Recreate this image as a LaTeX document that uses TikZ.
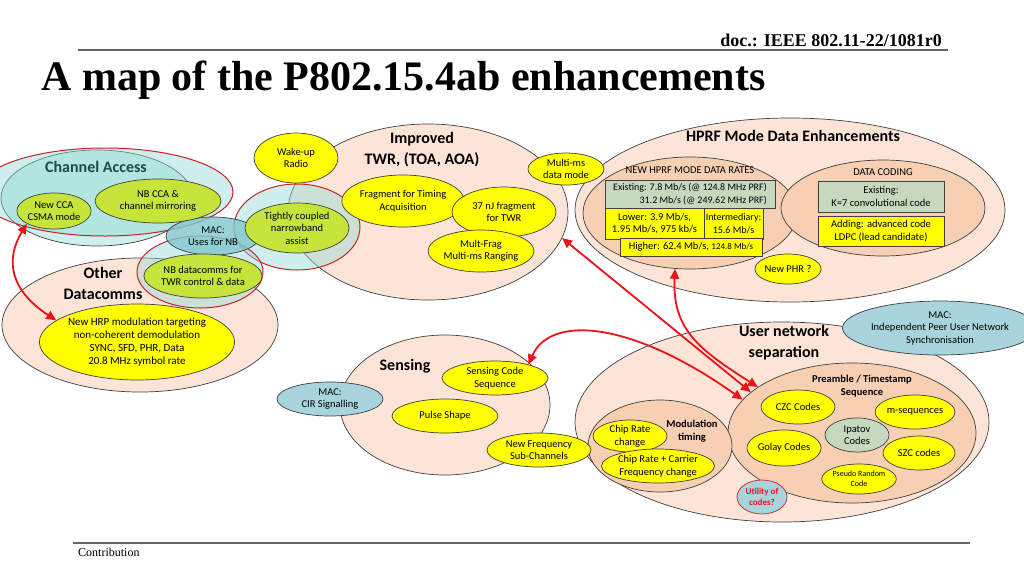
\documentclass[tikz,border=0pt]{standalone}
\usepackage{fontspec}
\setmainfont{Carlito}
\newfontfamily\tnr{Liberation Serif}
\usetikzlibrary{shapes.geometric,arrows.meta}
\definecolor{peach}{HTML}{FCE4D6}
\definecolor{peachd}{HTML}{F7CFB2}
\definecolor{yel}{HTML}{FFFF00}
\definecolor{lime}{HTML}{C6E43A}
\definecolor{tealc}{HTML}{94DCD5}
\definecolor{macnbc}{HTML}{80C6CC}
\definecolor{macb}{HTML}{A8D4DE}
\definecolor{grn}{HTML}{C6D9BE}
\definecolor{arr}{HTML}{E8141A}
\definecolor{redl}{HTML}{C8202C}
\definecolor{ctitle}{HTML}{1E4A4A}
\definecolor{outl}{HTML}{404040}
\tikzset{
  sz/.style 2 args={minimum width=#1pt, minimum height=#2pt},
  ell/.style={ellipse, draw=outl, line width=0.7pt, inner sep=0pt, align=center, font=\fontsize{10.5}{12.5}\selectfont},
  cont/.style={ell, fill=peach},
  contd/.style={ell, fill=peachd},
  yl/.style={ell, fill=yel},
  lm/.style={ell, fill=lime},
  tl/.style={ell, fill=tealc, fill opacity=0.45, text opacity=1},
  tlr/.style={tl, draw=redl, line width=1pt},
  macs/.style={ell, fill=macb},
  bx/.style={rectangle, draw=outl, line width=0.7pt, inner sep=0pt, align=center, font=\fontsize{10.5}{12.5}\selectfont},
  ttl/.style={font=\fontsize{16}{21}\selectfont\bfseries, align=center, inner sep=0pt},
  lbl/.style={font=\fontsize{10.5}{12.5}\selectfont, align=center, inner sep=0pt},
  redarr/.style={draw=arr, line width=1.8pt, {Triangle[length=10pt,width=9pt]}-{Triangle[length=10pt,width=9pt]}},
  rule/.style={draw=black!60, line width=1.5pt},
}
\begin{document}
\begin{tikzpicture}[x=1pt,y=-1pt]
\useasboundingbox (0,0) rectangle (1024,576);
\fill[white] (0,0) rectangle (1024,576);

% containers
\node[cont, sz={276}{134}] (other) at (140,325) {};
\node[tl, sz={192}{96}] (chand) at (97,198) {};
\node[tlr, sz={256}{88}] (chanr) at (105,192) {};
\node[cont, sz={280}{176}] (twr) at (428,212) {};
\node[tlr, sz={126}{86}] (tight) at (297,227) {};
\node[tlr, sz={126}{72}] (nbt) at (200,272) {};
\node[ell, fill=macnbc, fill opacity=0.8, text opacity=1, sz={94}{38}] (macnb) at (213,236) {MAC:\\Uses for NB};

\node[cont, sz={430}{184}] (hprf) at (790,210) {};
\node[contd, sz={214}{112}] (rates) at (690,213) {};
\node[contd, sz={204}{96}] (coding) at (883,208) {};
\node[cont, sz={210}{140}] (sens) at (445,405) {};
\node[cont, sz={414}{200}] (user) at (782,422) {};
\node[contd, sz={248}{140}] (pre) at (852,433) {};
\node[contd, sz={144}{92}] (mod) at (660,446) {};

% small nodes
\node[yl, sz={84}{50}] (wake) at (296,158) {Wake-up\\Radio};
\node[yl, sz={106}{52}] (frag) at (403,201) {Fragment for Timing\\Acquisition};
\node[yl, sz={104}{50}] (nj) at (504,212) {37 nJ fragment\\for TWR};
\node[yl, sz={104}{42}] (mfrag) at (481,251) {Mult-Frag\\Multi-ms Ranging};
\node[yl, sz={76}{32}] (mms) at (566,169) {Multi-ms\\data mode};
\node[lm, sz={104}{50}] (tca) at (297,228) {Tightly coupled\\narrowband\\assist};
\node[lm, sz={72}{36}] (ncca) at (54,211) {New CCA\\CSMA mode};
\node[lm, sz={126}{44}] (nbcca) at (158,201) {NB CCA \&\\channel mirroring};
\node[lm, sz={96}{44}] (nbdc) at (203,276) {NB datacomms for\\TWR control \& data};
\node[yl, sz={188}{76}, font=\fontsize{11}{13}\selectfont] (hrp) at (137,342) {New HRP modulation targeting\\non-coherent demodulation\\SYNC, SFD, PHR, Data\\20.8 MHz symbol rate};

\node[yl, sz={62}{30}] (phr) at (788,269) {New PHR ?};
\node[yl, sz={106}{34}] (scs) at (495,378) {Sensing Code\\Sequence};
\node[macs, sz={106}{34}] (cir) at (330,399) {MAC:\\CIR Signalling};
\node[yl, sz={106}{34}] (pulse) at (445,416) {Pulse Shape};
\node[yl, sz={104}{34}] (nfreq) at (539,450) {New Frequency\\Sub-Channels};
\node[macs, sz={156}{54}] (macpeer) at (940,328) {MAC:\\Independent Peer User Network\\Synchronisation};
\node[yl, sz={74}{34}] (czc) at (798,407) {CZC Codes};
\node[yl, sz={76}{34}] (mseq) at (915,412) {m-sequences};
\node[ell, fill=grn, sz={64}{34}] (ipatov) at (857,435) {Ipatov\\Codes};
\node[yl, sz={72}{36}] (golay) at (784,448) {Golay Codes};
\node[yl, sz={72}{34}] (szc) at (919,453) {SZC codes};
\node[yl, sz={72}{30}, font=\fontsize{8}{10}\selectfont] (prc) at (859,479) {Pseudo Random\\Code};
\node[ell, fill=macb, draw=redl, sz={50}{34}, font=\fontsize{9}{11}\selectfont\bfseries, text=arr] (util) at (762,497) {Utility of\\codes?};
\node[yl, sz={74}{32}] (chip) at (630,436) {Chip Rate\\change};
\node[yl, sz={106}{34}] (chipc) at (658,466) {Chip Rate + Carrier\\Frequency change};

% boxes
\node[bx, fill=grn, sz={170}{28}, align=right, font=\fontsize{10}{12.5}\selectfont] (exist) at (690,194) {Existing: 7.8 Mb/s (@ 124.8 MHz PRF)\\31.2 Mb/s (@ 249.62 MHz PRF)};
\node[bx, fill=yel, sz={99}{31}] (lower) at (654.5,223.5) {Lower: 3.9 Mb/s,\\1.95 Mb/s, 975 kb/s};
\node[bx, fill=yel, sz={59}{31}, font=\fontsize{10}{12.5}\selectfont] (inter) at (733.5,223.5) {Intermediary:\\15.6 Mb/s};
\node[bx, fill=yel, sz={142}{18}] (higher) at (691,247) {Higher: 62.4 Mb/s, {\fontsize{9}{11}\selectfont 124.8 Mb/s}};
\node[bx, fill=grn, sz={126}{31}] (cexist) at (881,196.5) {Existing:\\K=7 convolutional code};
\node[bx, fill=yel, sz={126}{30}] (cadd) at (881,231) {Adding: advanced code\\LDPC (lead candidate)};

% labels
\node[ttl] (ltwr) at (422,150) {Improved\\TWR, (TOA, AOA)};
\node[ttl] (lhprf) at (793,136) {HPRF Mode Data Enhancements};
\node[ttl, text=ctitle] (lchan) at (96,167) {Channel Access};
\node[ttl] (lother) at (103,283) {Other\\Datacomms};
\node[ttl] (lsens) at (405,366) {Sensing};
\node[ttl] (luser) at (784,343) {User network\\separation};
\node[lbl] (lrates) at (690,170) {NEW HPRF MODE DATA RATES};
\node[lbl] (lcoding) at (883,172) {DATA CODING};
\node[lbl, font=\fontsize{10.5}{13}\selectfont\bfseries] (lpre) at (862,386) {Preamble / Timestamp\\Sequence};
\node[lbl, font=\fontsize{10.5}{12.5}\selectfont\bfseries] (lmod) at (692,431) {Modulation\\timing};

% arrows
\draw[redarr] (ncca.205) .. controls (5,260) and (10,290) .. (hrp.165);
\draw[redarr] (twr.-11) -- (pre.158);
\draw[redarr] (rates.-105) .. controls (672,330) and (700,350) .. (pre.154);
\draw[redarr] (scs.22) .. controls (550,315) and (630,320) .. (pre.163);

% header / footer
\node[anchor=base east, font=\tnr\fontsize{18}{20}\selectfont\bfseries, inner sep=0pt] (doc) at (942,46) {doc.: IEEE 802.11-22/1081r0};
\coordinate (h1) at (78,50); \coordinate (h2) at (948,50);
\draw[rule] (h1) -- (h2);
\node[anchor=base west, font=\tnr\fontsize{42}{48}\selectfont\bfseries, inner sep=0pt] (title) at (41,90) {A map of the P802.15.4ab enhancements};
\coordinate (f1) at (73,543); \coordinate (f2) at (970,543);
\draw[rule] (f1) -- (f2);
\node[anchor=base west, font=\tnr\fontsize{12}{14}\selectfont, inner sep=0pt] (contrib) at (78,556) {Contribution};
\end{tikzpicture}
\end{document}
